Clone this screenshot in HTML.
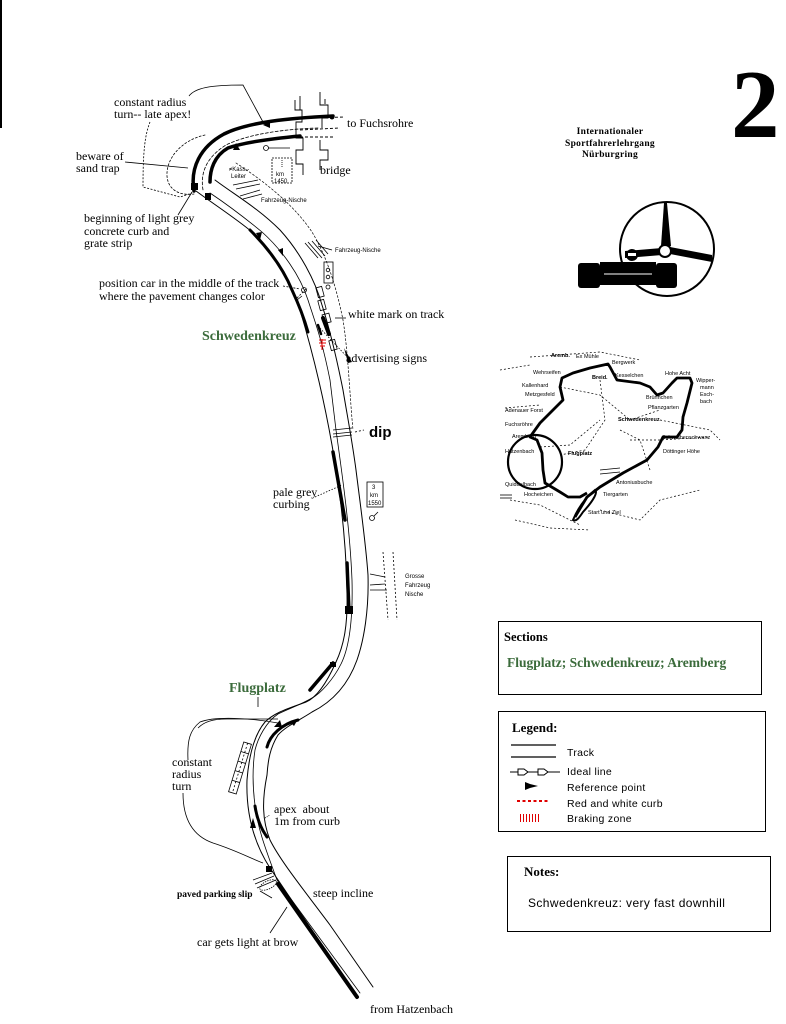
<!DOCTYPE html>
<html><head><meta charset="utf-8">
<style>
html,body{margin:0;padding:0;background:#fff;}
body{width:786px;height:1024px;overflow:hidden;position:relative;}
svg{position:absolute;left:0;top:0;}
.s{font-family:"Liberation Serif",serif;font-size:12px;fill:#000;}
.g{font-family:"Liberation Serif",serif;font-size:14px;font-weight:bold;fill:#3b6b3b;}
.t{font-family:"Liberation Sans",sans-serif;font-size:6px;fill:#000;}
.l{font-family:"Liberation Sans",sans-serif;font-size:10.5px;fill:#000;letter-spacing:0.3px;}
</style></head>
<body>
<svg width="786" height="1024" viewBox="0 0 786 1024" xmlns="http://www.w3.org/2000/svg">
<!-- left edge bar -->
<rect x="0" y="0" width="2" height="128" fill="#000"/>

<!-- ===== TRACK ===== -->
<g fill="none" stroke="#000" stroke-linecap="round">
 <!-- top curve thick edges -->
 <path d="M333,116 C290,118 248,122 224,134 C200,147 190,168 194,191" stroke-width="3.5"/>
 <path d="M300,136 C268,139 242,143 228,148 C214,156 210,170 210,182" stroke-width="3.5"/>
 <path d="M318,128 C285,129 248,134 226,145 C207,157 200,172 203,190" stroke-width="0.8" stroke-dasharray="3,2"/>
 <!-- sand trap bulge -->
 <path d="M205,135 C182,140 166,158 167,176 C168,190 180,196 194,194" stroke-width="0.8" stroke-dasharray="2,2"/>
 <!-- left edge -->
 <path d="M196,191 C215,205 238,220 252,232 C272,252 290,280 300,310 C312,350 324,400 332,445 C340,490 346,540 347,590 C348,625 344,645 336,662 C328,680 318,697 306,702 C290,708 275,712 265,722 C254,735 249,755 247,780 C246,810 252,840 270,868 L357,997" stroke-width="1"/>
 <!-- ideal line -->
 <path d="M210,193 C228,205 245,218 262,232 C282,250 300,275 308,300 C316,325 322,340 330,380 L336,430 C343,480 350,530 352,580 C353,620 349,648 341,664 C333,680 320,694 312,698 C300,705 288,709 278,714 C266,722 258,738 255,750 C252,770 253,790 255,805 C258,830 266,850 277,880 L360,993" stroke-width="0.8"/>
 <!-- right edge -->
 <path d="M215,180 C235,195 258,208 280,230 C300,252 315,280 322,305 C330,330 337,360 343,390 C348,420 352,440 356,470 C361,510 366,545 368,575 C369,610 364,640 357,660 C348,685 332,702 312,712 C300,720 286,726 278,735 C270,748 268,760 267,775 C262,800 262,820 270,840 C280,860 300,885 330,925 L373,987" stroke-width="1"/>
 <!-- outer boundary upper -->
 <path d="M236,163 C270,185 296,208 312,232 C326,255 336,285 343,320 C348,350 350,400 353,430" stroke-width="0.7" stroke-dasharray="2,2"/>
 <!-- thick reference segments -->
 <path d="M250,230 C268,248 283,268 292,290 C299,305 304,318 308,332" stroke-width="3"/>
 <path d="M333,452 L345,520" stroke-width="3.5"/>
 <path d="M347,563 L349,612" stroke-width="3.5"/>
 <path d="M310,690 L333,663" stroke-width="3.5"/>
 <path d="M267,747 C270,735 282,724 298,720" stroke-width="3"/>
 <path d="M255,806 C257,820 262,830 267,837" stroke-width="3"/>
 <path d="M278,884 L357,997" stroke-width="4"/>
 <path d="M323,318 L329,334" stroke-width="4"/>
 <path d="M318,325 L321,334" stroke-width="2.5"/>
</g>
<!-- blobs / arrowheads -->
<g fill="#000">
 <rect x="191" y="183" width="7" height="7"/>
 <rect x="205" y="193" width="6" height="7"/>
 <rect x="345" y="606" width="8" height="8"/>
 <rect x="330" y="662" width="6" height="5"/>
 <rect x="266" y="866" width="6" height="6"/>
 <polygon points="250,828 253,818 256,828"/>
 <polygon points="274,727 280,720 282,727"/>
 <polygon points="290,722 298,719 294,726"/>
 <polygon points="263,125 270,121 270,128"/>
 <polygon points="233,150 236,143 240,150"/>
 <polygon points="256,233 262,232 260,240"/>
 <polygon points="278,250 283,248 283,256"/>
 <circle cx="332" cy="117" r="2.5"/>
 <polygon points="344,348 352,362 348,363"/>
</g>
<!-- braking marks -->
<g stroke="#e00000" stroke-width="1">
 <line x1="319" y1="340" x2="326" y2="340"/>
 <line x1="319" y1="343" x2="326" y2="343"/>
 <line x1="320" y1="346" x2="325" y2="346"/>
 <line x1="322" y1="339" x2="322" y2="350"/>
</g>

<!-- bridge -->
<g fill="none" stroke="#000" stroke-width="0.9">
 <path d="M295,100 L295,110 L302,110 L302,122 L296,122 L296,138 L303,138 L303,150 L296,150 L296,164 L303,164 L303,175"/>
 <path d="M300,96 L300,110"/>
 <path d="M320,92 L320,105 L328,105 L328,118 L322,118 L322,128"/>
 <path d="M320,140 L320,150 L328,150 L328,160 L320,160 L320,170"/>
 <path d="M325,99 L325,104"/>
 <path d="M300,130 L340,128" stroke-dasharray="3,2"/>
 <path d="M300,137 L335,137" stroke-dasharray="3,2"/>
 <path d="M305,118 L345,117" stroke-dasharray="3,2"/>
</g>
<!-- features near top -->
<g fill="none" stroke="#000" stroke-width="0.8">
 <circle cx="266" cy="148" r="2.5"/>
 <line x1="268" y1="148" x2="290" y2="148"/>
 <rect x="272" y="158" width="20" height="25" stroke-dasharray="2,1"/>
 <line x1="282" y1="160" x2="282" y2="168" stroke-dasharray="1,1"/>
 <line x1="233" y1="185" x2="258" y2="180"/>
 <line x1="236" y1="189" x2="260" y2="184"/>
 <line x1="240" y1="196" x2="260" y2="190"/>
 <line x1="243" y1="199" x2="262" y2="194"/>
 <!-- second nische hatch -->
 <line x1="305" y1="243" x2="318" y2="258"/>
 <line x1="308" y1="242" x2="322" y2="258"/>
 <line x1="312" y1="241" x2="325" y2="256"/>
 <line x1="316" y1="240" x2="328" y2="254"/>
 <line x1="318" y1="246" x2="332" y2="250"/>
 <rect x="324" y="262" width="9" height="21"/>
 <circle cx="328" cy="270" r="1.8"/>
 <circle cx="328" cy="277" r="1.8"/>
 <circle cx="328" cy="287" r="2"/>
 <!-- ad sign rectangles -->
 <rect x="317" y="287" width="6" height="10" transform="rotate(-15 320 292)"/>
 <rect x="319" y="300" width="6" height="10" transform="rotate(-15 322 305)"/>
 <rect x="323" y="314" width="7" height="9" transform="rotate(-15 326 318)"/>
 <rect x="330" y="340" width="6" height="10" transform="rotate(-15 333 345)"/>
 <circle cx="304" cy="290" r="2.5"/>
 <line x1="297" y1="300" x2="302" y2="296"/>
 <line x1="318" y1="326" x2="350" y2="360" stroke-dasharray="1.5,1.5"/>
 <!-- dip marks -->
 <line x1="333" y1="430" x2="352" y2="428"/>
 <line x1="333" y1="434" x2="352" y2="432"/>
 <line x1="333" y1="437" x2="352" y2="435"/>
 <line x1="355" y1="432" x2="364" y2="430" stroke-dasharray="2,2"/>
 <!-- 3 km sign -->
 <rect x="367" y="482" width="16" height="25"/>
 <circle cx="372" cy="518" r="2.5"/>
 <line x1="374" y1="516" x2="378" y2="512"/>
 <!-- grosse nische -->
 <line x1="383" y1="552" x2="388" y2="620" stroke-dasharray="2,2"/>
 <line x1="393" y1="552" x2="397" y2="620" stroke-dasharray="2,2"/>
 <line x1="370" y1="574" x2="385" y2="577"/>
 <line x1="370" y1="585" x2="385" y2="584"/>
 <line x1="370" y1="590" x2="387" y2="590"/>
 <!-- flugplatz ladder -->
 <g transform="rotate(17 240 768)">
  <rect x="236" y="742" width="8" height="52"/>
  <line x1="240" y1="742" x2="240" y2="794" stroke-dasharray="2,2"/>
  <line x1="236" y1="752" x2="244" y2="752"/>
  <line x1="236" y1="762" x2="244" y2="762"/>
  <line x1="236" y1="772" x2="244" y2="772"/>
  <line x1="236" y1="782" x2="244" y2="782"/>
 </g>
 <!-- parking slip hatch -->
 <ellipse cx="268" cy="885" rx="9" ry="4" transform="rotate(-25 268 885)" stroke-dasharray="1.5,1"/>
 <line x1="253" y1="880" x2="272" y2="873"/>
 <line x1="255" y1="884" x2="274" y2="876"/>
 <line x1="257" y1="888" x2="276" y2="880"/>
 <line x1="260" y1="891" x2="272" y2="898"/>
</g>
<!-- leader lines -->
<g fill="none" stroke="#000" stroke-width="0.8">
 <path d="M189,96 C195,88 210,85 243,85 L263,122"/>
 <path d="M150,122 C145,135 143,150 143,187 L180,197 L192,193" stroke-dasharray="2,1.5"/>
 <line x1="125" y1="162" x2="188" y2="168"/>
 <line x1="178" y1="215" x2="192" y2="192"/>
 <line x1="283" y1="286" x2="300" y2="289" stroke-dasharray="2,1.5"/>
 <line x1="297" y1="298" x2="307" y2="288" stroke-dasharray="2,1.5"/>
 <line x1="335" y1="318" x2="346" y2="318"/>
 <line x1="315" y1="497" x2="342" y2="485" stroke-dasharray="1.5,1.5"/>
 <line x1="258" y1="697" x2="258" y2="707"/>
 <path d="M227,719 L278,719"/>
 <path d="M227,719 C212,719 204,722 198,728"/>
 <path d="M278,723 C250,718 215,716 200,722 C190,730 187,740 188,760"/>
 <path d="M183,793 C183,815 190,835 213,843 C235,850 250,858 263,863"/>
 <line x1="270" y1="933" x2="287" y2="907"/>
 <line x1="265" y1="818" x2="270" y2="815" stroke-dasharray="1,1"/>
</g>

<!-- annotation text -->
<text class="s" x="114" y="106">constant radius</text>
<text class="s" x="114" y="118">turn-- late apex!</text>
<text class="s" x="347" y="127">to Fuchsrohre</text>
<text class="s" x="76" y="160">beware of</text>
<text class="s" x="76" y="172">sand trap</text>
<text class="s" x="320" y="174">bridge</text>
<text class="s" x="84" y="222">beginning of light grey</text>
<text class="s" x="84" y="235">concrete curb and</text>
<text class="s" x="84" y="247">grate strip</text>
<text class="s" x="99" y="287">position car in the middle of the track</text>
<text class="s" x="99" y="300">where the pavement changes color</text>
<text class="s" x="348" y="318">white mark on track</text>
<text class="g" x="202" y="340">Schwedenkreuz</text>
<text class="s" x="346" y="362">advertising signs</text>
<text x="369" y="437" font-family="Liberation Sans,sans-serif" font-size="15" font-weight="bold">dip</text>
<text class="s" x="273" y="496">pale grey</text>
<text class="s" x="273" y="508">curbing</text>
<text class="g" x="229" y="692">Flugplatz</text>
<text class="s" x="172" y="766">constant</text>
<text class="s" x="172" y="778">radius</text>
<text class="s" x="172" y="790">turn</text>
<text class="s" x="274" y="813">apex&#160; about</text>
<text class="s" x="274" y="825">1m from curb</text>
<text class="s" x="177" y="897" font-size="10" font-weight="bold" style="font-size:9.5px">paved parking slip</text>
<text class="s" x="313" y="897">steep incline</text>
<text class="s" x="197" y="946">car gets light at brow</text>
<text class="s" x="370" y="1013">from Hatzenbach</text>
<!-- tiny track labels -->
<text class="t" x="229" y="171">≠Kass.-</text>
<text class="t" x="231" y="178">Leiter</text>
<text class="t" x="276" y="176">km</text>
<text class="t" x="274" y="183">1450</text>
<text class="t" x="261" y="202">Fahrzeug-Nische</text>
<text class="t" x="335" y="252">Fahrzeug-Nische</text>
<text class="t" x="372" y="489">3</text>
<text class="t" x="370" y="497">km</text>
<text class="t" x="368" y="505">1550</text>
<text class="t" x="405" y="578">Grosse</text>
<text class="t" x="405" y="587">Fahrzeug</text>
<text class="t" x="405" y="596">Nische</text>

<!-- ===== RIGHT SIDE ===== -->
<text x="731" y="137" font-family="Liberation Serif,serif" font-size="97" font-weight="bold">2</text>
<g font-family="Liberation Serif,serif" font-size="9.5" font-weight="bold" text-anchor="middle" letter-spacing="0.3">
 <text x="610" y="134">Internationaler</text>
 <text x="610" y="146">Sportfahrerlehrgang</text>
 <text x="610" y="157">Nürburgring</text>
</g>
<!-- logo -->
<g>
 <circle cx="667" cy="249" r="47" fill="none" stroke="#000" stroke-width="2"/>
 <polygon points="661,246 671,246 667,203 664,203" fill="#000"/>
 <polygon points="670,247 670,254 712,262 712,255" fill="#000"/>
 <polygon points="662,248 662,255 625,258 625,251" fill="#000"/>
 <circle cx="665" cy="251" r="6" fill="#fff" stroke="#000" stroke-width="2"/>
 <rect x="578" y="263" width="22" height="25" rx="3" fill="#000"/>
 <rect x="656" y="263" width="21" height="25" rx="3" fill="#000"/>
 <rect x="600" y="262" width="56" height="18" fill="#000"/>
 <rect x="596" y="279" width="64" height="6" fill="#000"/>
 <line x1="604" y1="274" x2="652" y2="274" stroke="#fff" stroke-width="1"/>
 <circle cx="632" cy="255" r="6" fill="#000"/>
 <rect x="628" y="253" width="8" height="3" fill="#fff"/>
</g>

<!-- map -->
<g fill="none" stroke="#000">
 <path d="M575,517 L587,497 L600,487 L623,473 L647,460 L658,447 L663,437 L677,437 L682,430 L683,417 L687,403 L692,383 L690,378 L677,378 L672,383 L663,393 L657,395 L650,387 L640,383 L617,380 L610,367 L608,364 L590,368 L573,373 L562,378 L560,387 L563,400 L550,413 L540,423 L530,437 L537,440 L542,453 L543,470 L545,483 L560,492 L568,497 L580,497 L587,493" stroke-width="2.8" stroke-linejoin="round"/>
 <circle cx="535" cy="462" r="27" stroke-width="2.2"/>
 <path d="M573,520 C578,508 585,498 595,490 C598,492 594,500 583,512 C579,518 576,522 573,520 Z" stroke-width="2"/>
 <g stroke-width="0.7" stroke-dasharray="2,2">
  <path d="M530,357 L600,352 L640,360"/>
  <path d="M560,387 L600,395 L630,420 L660,410"/>
  <path d="M600,380 L605,420 L585,450 L560,455"/>
  <path d="M540,447 L570,445 L600,420"/>
  <path d="M620,430 L640,440 L650,470"/>
  <path d="M600,510 L640,520 L660,500 L700,490"/>
  <path d="M510,500 L540,505 L560,515 L580,525"/>
  <path d="M515,520 L550,528 L590,530"/>
  <path d="M660,420 L710,430 L720,440"/>
  <path d="M630,440 L660,440 L710,437"/>
  <path d="M500,370 L530,365"/>
  <path d="M505,408 L540,405"/>
 </g>
 <g stroke-width="0.8">
  <line x1="500" y1="495" x2="512" y2="495"/>
  <line x1="500" y1="498" x2="512" y2="498"/>
  <line x1="600" y1="470" x2="620" y2="468"/>
  <line x1="600" y1="474" x2="620" y2="472"/>
 </g>
</g>
<g font-family="Liberation Sans,sans-serif" font-size="5.5" fill="#000">
 <text x="551" y="357" font-weight="bold">Aremb.</text>
 <text x="576" y="358">Ex Mühle</text>
 <text x="612" y="364">Bergwerk</text>
 <text x="533" y="374">Wehrseifen</text>
 <text x="592" y="379" font-weight="bold">Breid.</text>
 <text x="615" y="377">Kesselchen</text>
 <text x="665" y="375">Hohe Acht</text>
 <text x="696" y="382">Wipper-</text>
 <text x="700" y="389">mann</text>
 <text x="700" y="396">Esch-</text>
 <text x="700" y="403">bach</text>
 <text x="522" y="387">Kallenhard</text>
 <text x="525" y="396">Metzgesfeld</text>
 <text x="505" y="412">Adenauer Forst</text>
 <text x="646" y="399">Brünnchen</text>
 <text x="648" y="409">Pflanzgarten</text>
 <text x="505" y="426">Fuchsröhre</text>
 <text x="618" y="421" font-weight="bold">Schwedenkreuz</text>
 <text x="512" y="438">Aremberg</text>
 <text x="505" y="453">Hatzenbach</text>
 <text x="568" y="455" font-weight="bold">Flugplatz</text>
 <text x="662" y="439">Schwalbenschwanz</text>
 <text x="663" y="453">Döttinger Höhe</text>
 <text x="505" y="486">Quiddelbach</text>
 <text x="616" y="484">Antoniusbuche</text>
 <text x="603" y="496">Tiergarten</text>
 <text x="524" y="496">Hocheichen</text>
 <text x="588" y="514">Start und Ziel</text>
</g>

<!-- Sections box -->
<rect x="498.5" y="621.5" width="263" height="73" fill="none" stroke="#000" stroke-width="1"/>
<text x="504" y="641" font-family="Liberation Serif,serif" font-size="12.5" font-weight="bold">Sections</text>
<text x="507" y="667" class="g" style="font-size:13.5px">Flugplatz; Schwedenkreuz; Aremberg</text>

<!-- Legend box -->
<rect x="498.5" y="711.5" width="267" height="120" fill="none" stroke="#000" stroke-width="1"/>
<text x="512" y="732" font-family="Liberation Serif,serif" font-size="13" font-weight="bold">Legend:</text>
<line x1="511" y1="745" x2="556" y2="745" stroke="#000" stroke-width="1.2"/>
<line x1="511" y1="757" x2="556" y2="757" stroke="#000" stroke-width="1.2"/>
<text class="l" x="567" y="756">Track</text>
<line x1="510" y1="772" x2="560" y2="772" stroke="#000" stroke-width="1"/>
<polygon points="518,769 524,769 528,772 524,775 518,775" fill="#fff" stroke="#000" stroke-width="1"/>
<polygon points="538,769 544,769 548,772 544,775 538,775" fill="#fff" stroke="#000" stroke-width="1"/>
<text class="l" x="567" y="775">Ideal line</text>
<polygon points="525,782 530,784 538,786 530,788 525,790" fill="#000"/>
<text class="l" x="567" y="791">Reference point</text>
<line x1="517" y1="801" x2="549" y2="801" stroke="#e00000" stroke-width="2" stroke-dasharray="3,2.5"/>
<text class="l" x="567" y="807">Red and white curb</text>
<g stroke="#e00000" stroke-width="1">
 <line x1="520.5" y1="814" x2="520.5" y2="822"/>
 <line x1="523.5" y1="814" x2="523.5" y2="822"/>
 <line x1="526.5" y1="814" x2="526.5" y2="822"/>
 <line x1="529.5" y1="814" x2="529.5" y2="822"/>
 <line x1="532.5" y1="814" x2="532.5" y2="822"/>
 <line x1="535.5" y1="814" x2="535.5" y2="822"/>
 <line x1="538.5" y1="814" x2="538.5" y2="822"/>
</g>
<text class="l" x="567" y="822">Braking zone</text>

<!-- Notes box -->
<rect x="507.5" y="856.5" width="263" height="75" fill="none" stroke="#000" stroke-width="1"/>
<text x="524" y="876" font-family="Liberation Serif,serif" font-size="13" font-weight="bold">Notes:</text>
<text x="528" y="907" font-family="Liberation Sans,sans-serif" font-size="12" letter-spacing="0.4">Schwedenkreuz: very fast downhill</text>
</svg>
</body></html>
